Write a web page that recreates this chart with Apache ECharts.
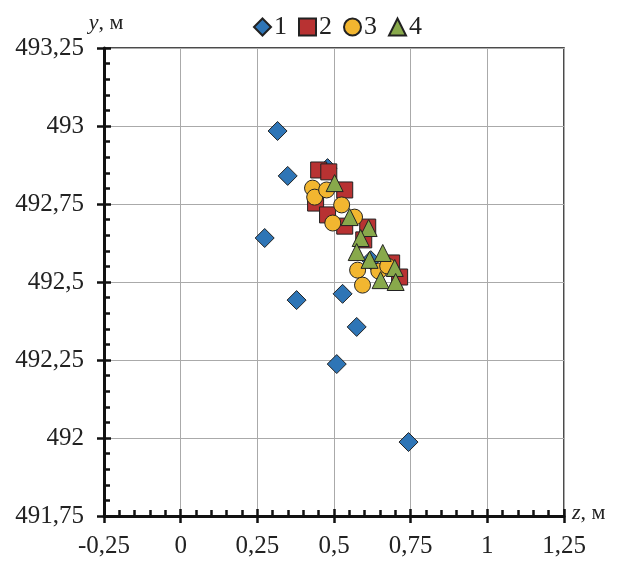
<!DOCTYPE html>
<html>
<head>
<meta charset="utf-8">
<script src="https://cdn.jsdelivr.net/npm/echarts@6/dist/echarts.min.js"></script>
<style>html,body{margin:0;padding:0;background:#fff}#c{width:617px;height:562px}</style>
</head>
<body>
<div id="c"></div>
<script>
const seriesNames = ['1', '2', '3', '4'];
const series1 = [[0.316,492.984],[0.349,492.840],[0.274,492.641],[0.378,492.442],[0.528,492.462],[0.574,492.356],[0.509,492.237],[0.743,491.987],[0.479,492.865],[0.620,492.570]];
const series2 = [[0.450,492.859],[0.483,492.853],[0.535,492.795],[0.440,492.753],[0.479,492.715],[0.535,492.679],[0.610,492.676],[0.597,492.635],[0.688,492.561],[0.714,492.516]];
const series3 = [[0.430,492.801],[0.437,492.772],[0.476,492.795],[0.525,492.747],[0.567,492.708],[0.496,492.689],[0.577,492.538],[0.593,492.490],[0.646,492.535],[0.675,492.551]];
const series4 = [[0.502,492.817],[0.551,492.708],[0.613,492.673],[0.587,492.641],[0.574,492.596],[0.616,492.571],[0.659,492.593],[0.698,492.545],[0.652,492.506],[0.701,492.500]];
const xTicks = [-0.25, 0, 0.25, 0.5, 0.75, 1, 1.25];
const yTicks = [491.75, 492, 492.25, 492.5, 492.75, 493, 493.25];

const FONT = 'Liberation Serif';
const fmt = v => String(+v.toFixed(2)).replace('.', ',');
const chart = echarts.init(document.getElementById('c'), null, {renderer: 'canvas'});

function mkSeries(name, data, symbol, size, color) {
  return {
    name, type: 'scatter', data, symbol, symbolSize: size,
    itemStyle: {color, borderColor: '#222', borderWidth: 1, opacity: 1},
    emphasis: {disabled: true}
  };
}

const xBase = {
  type: 'value', min: xTicks[0], max: xTicks[xTicks.length - 1], interval: 0.25
};
const yBase = {
  type: 'value', min: yTicks[0], max: yTicks[yTicks.length - 1], interval: 0.25
};

chart.setOption({
  animation: false,
  textStyle: {fontFamily: FONT},
  grid: {left: 104, right: 53, top: 48, bottom: 46, show: true, borderColor: '#111', borderWidth: 1.5, containLabel: false},
  legend: {
    data: seriesNames, left: 248, top: 9, itemWidth: 17, itemHeight: 17, itemGap: 11,
    textStyle: {fontFamily: FONT, fontSize: 26, color: '#222', padding: [0, 0, 0, -2]}
  },
  xAxis: [
    Object.assign({}, xBase, {
      position: 'bottom',
      name: '{i|z}, м', nameLocation: 'end', nameGap: 8,
      nameTextStyle: {fontFamily: FONT, fontSize: 22, color: '#222', rich: {i: {fontStyle: 'italic', fontFamily: FONT, fontSize: 22}}, padding: [0, 0, 6, 0]},
      axisLine: {show: true, onZero: false, lineStyle: {color: '#111', width: 3}},
      axisTick: {show: true, inside: true, length: 7, lineStyle: {color: '#111', width: 2.5}},
      minorTick: {show: true, splitNumber: 5, length: 6, lineStyle: {color: '#111', width: 2.5}},
      axisLabel: {formatter: fmt, fontFamily: FONT, fontSize: 25, color: '#222', margin: 18},
      splitLine: {show: true, lineStyle: {color: '#aaa', width: 1}}
    }),
    Object.assign({}, xBase, {
      position: 'bottom', gridIndex: 0,
      axisLine: {show: false, onZero: false},
      axisTick: {show: true, inside: false, length: 7, lineStyle: {color: '#111', width: 2.5}},
      axisLabel: {show: false},
      splitLine: {show: false}
    })
  ],
  yAxis: [
    Object.assign({}, yBase, {
      position: 'left',
      name: '{i|y}, м', nameLocation: 'end', nameGap: 14,
      nameTextStyle: {fontFamily: FONT, fontSize: 22, color: '#222', rich: {i: {fontStyle: 'italic', fontFamily: FONT, fontSize: 22}}, padding: [0, 0, 0, 4]},
      axisLine: {show: true, onZero: false, lineStyle: {color: '#111', width: 3}},
      axisTick: {show: true, inside: true, length: 7, lineStyle: {color: '#111', width: 2.5}},
      minorTick: {show: true, splitNumber: 5, length: 6, lineStyle: {color: '#111', width: 2.5}},
      axisLabel: {formatter: fmt, fontFamily: FONT, fontSize: 25, color: '#222', margin: 20},
      splitLine: {show: true, lineStyle: {color: '#aaa', width: 1}}
    }),
    Object.assign({}, yBase, {
      position: 'left', gridIndex: 0,
      axisLine: {show: false, onZero: false},
      axisTick: {show: true, inside: false, length: 7, lineStyle: {color: '#111', width: 2.5}},
      axisLabel: {show: false},
      splitLine: {show: false}
    })
  ],
  series: [
    mkSeries(seriesNames[0], series1, 'diamond', 19, '#2E75B6'),
    mkSeries(seriesNames[1], series2, 'rect', 16, '#B83232'),
    mkSeries(seriesNames[2], series3, 'circle', 16, '#F2B630'),
    mkSeries(seriesNames[3], series4, 'triangle', 17, '#88A94B')
  ]
});
</script>
</body>
</html>
